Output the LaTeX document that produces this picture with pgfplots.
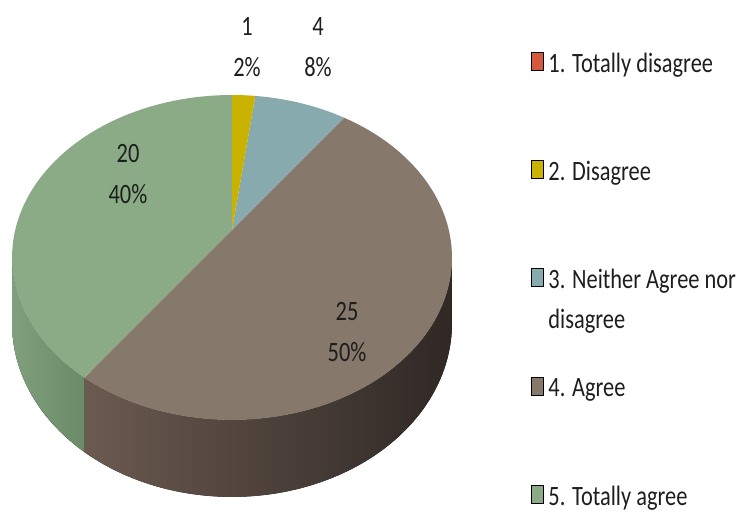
\documentclass[border=0pt]{standalone}
\usepackage{fontspec}
\setmainfont{Carlito}[FakeStretch=0.8]
\usepackage{pgfplots}
\pgfplotsset{compat=1.18}
\usepackage{pgfplotstable}
\usepgfplotslibrary{fillbetween}

\definecolor{cTD}{HTML}{D35A3C}
\definecolor{cD}{HTML}{C9B300}
\definecolor{cN}{HTML}{86AAAD}
\definecolor{cA}{HTML}{86786A}
\definecolor{cTA}{HTML}{8BAB87}
\definecolor{cAsideL}{HTML}{6B5A50}
\definecolor{cAsideR}{HTML}{2F2825}
\definecolor{cTAsideL}{HTML}{809F7D}
\definecolor{cTAsideR}{HTML}{6B8A68}
\definecolor{txt}{HTML}{1E1E1E}

\pgfplotstableread{
cat value
1 0
2 1
3 4
4 25
5 20
}\datatable

\pgfplotsset{sqlegend/.style={legend image code/.code={\fill[##1] (0pt,-5pt) rectangle (12pt,13pt);}}}

\begin{document}
\begin{tikzpicture}
\pgfplotstablegetelem{0}{value}\of\datatable \let\vA\pgfplotsretval
\pgfplotstablegetelem{1}{value}\of\datatable \let\vB\pgfplotsretval
\pgfplotstablegetelem{2}{value}\of\datatable \let\vC\pgfplotsretval
\pgfplotstablegetelem{3}{value}\of\datatable \let\vD\pgfplotsretval
\pgfplotstablegetelem{4}{value}\of\datatable \let\vE\pgfplotsretval
\pgfmathsetmacro\tot{\vA+\vB+\vC+\vD+\vE}
\pgfmathsetmacro\aA{90}
\pgfmathsetmacro\aB{\aA-360*\vA/\tot}
\pgfmathsetmacro\aC{\aB-360*\vB/\tot}
\pgfmathsetmacro\aD{\aC-360*\vC/\tot}
\pgfmathsetmacro\aE{\aD-360*\vD/\tot}
\pgfmathsetmacro\aF{\aE-360*\vE/\tot}
\begin{axis}[
  scale only axis, width=741pt, height=514pt,
  xmin=0, xmax=741, ymin=0, ymax=514, y dir=reverse,
  hide axis, clip=false,
  legend cell align=left,
  legend style={draw=none, fill=none, at={(axis cs:531,52)}, anchor=north west,
    inner sep=0pt, outer sep=0pt, row sep=82pt,
    font=\fontsize{28}{40}\selectfont,
    nodes={inner sep=0pt, text height=20pt, text depth=6pt, text=txt},
    /tikz/every odd column/.append style={column sep=5pt}},
]
% side faces
\addplot[name path=gt, draw=none, forget plot, domain=-170.27:\aE, samples=40]
  ({232+216.8*cos(x)/(1+0.169*sin(x))},{230-157.8*sin(x)/(1+0.169*sin(x))});
\addplot[name path=gb, draw=none, forget plot, domain=-170.27:\aE, samples=40]
  ({232+216.8*cos(x)/(1+0.169*sin(x))},{230+(64-157.8*sin(x))/(1+0.169*sin(x))});
\addplot[left color=cTAsideL, right color=cTAsideR, draw=none, forget plot] fill between[of=gt and gb];
\addplot[name path=bt, draw=none, forget plot, domain=\aE:-9.73, samples=80]
  ({232+216.8*cos(x)/(1+0.169*sin(x))},{230-157.8*sin(x)/(1+0.169*sin(x))});
\addplot[name path=bb, draw=none, forget plot, domain=\aE:-9.73, samples=80]
  ({232+216.8*cos(x)/(1+0.169*sin(x))},{230+(64-157.8*sin(x))/(1+0.169*sin(x))});
\addplot[left color=cAsideL, right color=cAsideR, draw=none, forget plot] fill between[of=bt and bb];
% top faces
\addplot[fill=cTA, draw=none, forget plot, domain=\aF:\aE, samples=80]
  ({232+216.8*cos(x)/(1+0.169*sin(x))},{230-157.8*sin(x)/(1+0.169*sin(x))}) -- (axis cs:232,230) -- cycle;
\addplot[fill=cA, draw=none, forget plot, domain=\aE:\aD, samples=100]
  ({232+216.8*cos(x)/(1+0.169*sin(x))},{230-157.8*sin(x)/(1+0.169*sin(x))}) -- (axis cs:232,230) -- cycle;
\addplot[fill=cN, draw=none, forget plot, domain=\aD:\aC, samples=30]
  ({232+216.8*cos(x)/(1+0.169*sin(x))},{230-157.8*sin(x)/(1+0.169*sin(x))}) -- (axis cs:232,230) -- cycle;
\addplot[fill=cD, draw=none, forget plot, domain=\aC:\aB, samples=10]
  ({232+216.8*cos(x)/(1+0.169*sin(x))},{230-157.8*sin(x)/(1+0.169*sin(x))}) -- (axis cs:232,230) -- cycle;
% labels
\node[align=center, text=txt, font=\fontsize{28}{41}\selectfont] at (axis cs:247,47) {1\\2\%};
\node[align=center, text=txt, font=\fontsize{28}{41}\selectfont] at (axis cs:318,47) {4\\8\%};
\node[align=center, text=txt, font=\fontsize{28}{41}\selectfont] at (axis cs:128,174) {20\\40\%};
\node[align=center, text=txt, font=\fontsize{28}{41}\selectfont] at (axis cs:347,332) {25\\50\%};
% legend
\addlegendimage{sqlegend, fill=cTD}
\addlegendentry{1. Totally disagree}
\addlegendimage{sqlegend, fill=cD}
\addlegendentry{2. Disagree}
\addlegendimage{sqlegend, fill=cN}
\addlegendentry{\begin{tabular}[t]{@{}l@{}}3. Neither Agree nor\\disagree\end{tabular}}
\addlegendimage{sqlegend, fill=cA}
\addlegendentry{4. Agree}
\addlegendimage{sqlegend, fill=cTA}
\addlegendentry{5. Totally agree}
\end{axis}
\pgfresetboundingbox
\path (current axis.south west) rectangle (current axis.north east);
\end{tikzpicture}
\end{document}
